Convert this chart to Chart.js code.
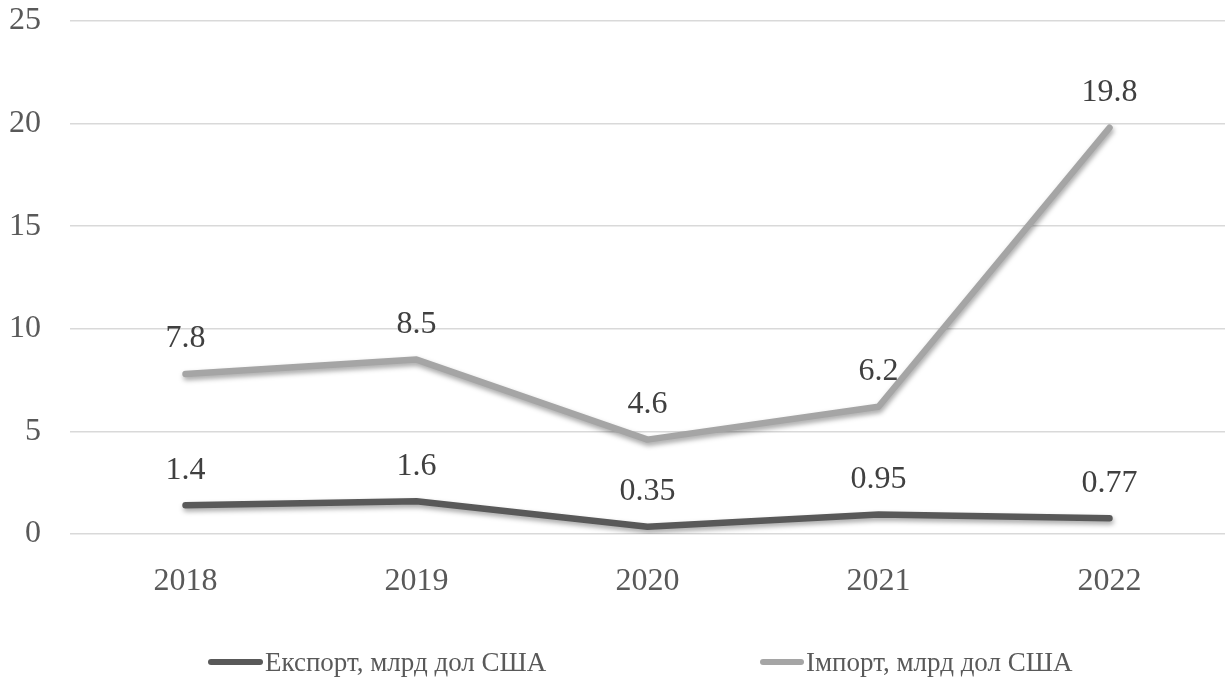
<!DOCTYPE html>
<html>
<head>
<meta charset="utf-8">
<script src="https://cdn.jsdelivr.net/npm/chart.js@4.4.1/dist/chart.umd.min.js"></script>
<style>
  html, body { margin: 0; padding: 0; background: #fff; }
  #wrap { position: relative; width: 1227px; height: 683px; }
  .legend-item { position: absolute; top: 646px; height: 32px; display: flex; align-items: center;
    font-family: "Liberation Serif", "Times New Roman", serif; font-size: 27px; color: #595959; white-space: nowrap; }
  .legend-item .swatch { height: 6px; border-radius: 3px; margin-right: 2px; }
</style>
</head>
<body>
<div id="wrap">
  <canvas id="chart" width="1227" height="683"></canvas>
  <div class="legend-item" style="left:208px"><span class="swatch" style="width:55px;background:#595959"></span><span id="lg0"></span></div>
  <div class="legend-item" style="left:760px"><span class="swatch" style="width:44px;background:#a5a5a5"></span><span id="lg1"></span></div>
</div>
<script>
const years = ['2018', '2019', '2020', '2021', '2022'];
const exportValues = [1.4, 1.6, 0.35, 0.95, 0.77];
const importValues = [7.8, 8.5, 4.6, 6.2, 19.8];
const seriesNames = ['Експорт, млрд дол США', 'Імпорт, млрд дол США'];
const seriesColors = ['#595959', '#a5a5a5'];

document.getElementById('lg0').textContent = seriesNames[0];
document.getElementById('lg1').textContent = seriesNames[1];

const serif = '"Liberation Serif", "Times New Roman", serif';

// soft shadow under each line, like the office chart
const lineShadow = {
  id: 'lineShadow',
  beforeDatasetDraw(chart) {
    const ctx = chart.ctx;
    ctx.save();
    ctx.shadowColor = 'rgba(0,0,0,0.35)';
    ctx.shadowBlur = 5;
    ctx.shadowOffsetX = 1;
    ctx.shadowOffsetY = 3;
  },
  afterDatasetDraw(chart) {
    chart.ctx.restore();
  }
};

// value labels above each point
const valueLabels = {
  id: 'valueLabels',
  afterDatasetsDraw(chart) {
    const ctx = chart.ctx;
    ctx.save();
    ctx.font = '32px ' + serif;
    ctx.fillStyle = '#404040';
    ctx.textAlign = 'center';
    ctx.textBaseline = 'middle';
    chart.data.datasets.forEach((ds, i) => {
      chart.getDatasetMeta(i).data.forEach((pt, j) => {
        ctx.fillText(String(ds.data[j]), pt.x, pt.y - 35);
      });
    });
    ctx.restore();
  }
};

new Chart(document.getElementById('chart').getContext('2d'), {
  type: 'line',
  data: {
    labels: years,
    datasets: [
      { label: seriesNames[0], data: exportValues, borderColor: seriesColors[0], backgroundColor: seriesColors[0] },
      { label: seriesNames[1], data: importValues, borderColor: seriesColors[1], backgroundColor: seriesColors[1] }
    ]
  },
  options: {
    responsive: false,
    animation: false,
    layout: { padding: { top: 21, right: 2, left: 0, bottom: 0 } },
    elements: {
      line: { borderWidth: 6.5, tension: 0, borderCapStyle: 'round', borderJoinStyle: 'round' },
      point: { radius: 0, hoverRadius: 0 }
    },
    scales: {
      x: {
        offset: true,
        grid: { display: false },
        border: { display: false },
        ticks: { color: '#595959', font: { family: serif, size: 32 }, padding: 20 },
        afterFit(scale) { scale.height = 149; }
      },
      y: {
        min: 0,
        max: 25,
        ticks: { stepSize: 5, color: '#595959', font: { family: serif, size: 32 }, padding: 29 },
        grid: { color: '#d9d9d9', lineWidth: 1.5, drawTicks: false },
        border: { display: false },
        afterFit(scale) {
          scale.width = 70;
          scale.paddingTop = 0;
          scale.paddingBottom = 0;
        }
      }
    },
    plugins: {
      legend: { display: false },
      tooltip: { enabled: false }
    }
  },
  plugins: [lineShadow, valueLabels]
});
</script>
</body>
</html>
